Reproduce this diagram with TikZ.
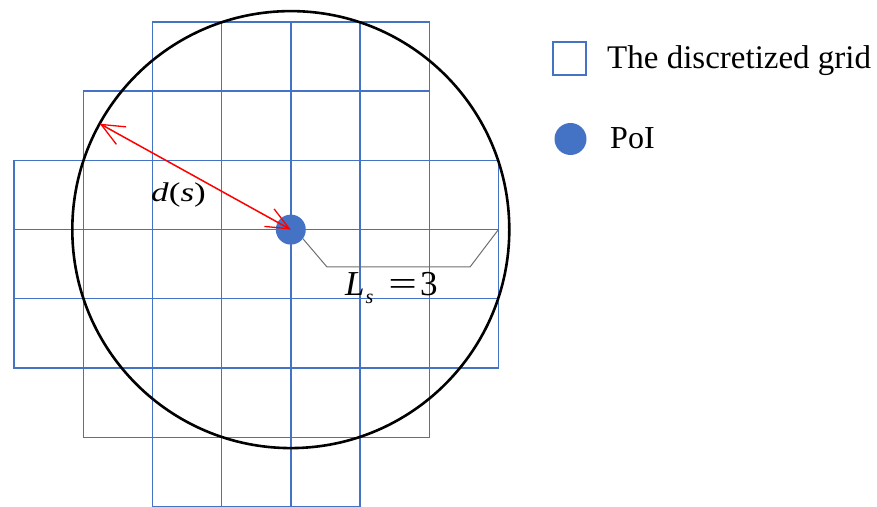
\documentclass[tikz,border=0pt]{standalone}
\usepackage{fontspec}
\usepackage{graphicx}
\setmainfont{Liberation Serif}
\usetikzlibrary{arrows.meta,calc}
\definecolor{gridblue}{RGB}{68,114,196}
\definecolor{brackgray}{RGB}{110,110,110}
\begin{document}
\begin{tikzpicture}[x=1pt,y=1pt,
  gridline/.style={draw=gridblue,line width=1.4pt,line cap=rect},
  rimline/.style={draw=black,line width=2.6pt},
  distarrow/.style={draw=red,line width=1.5pt,{Straight Barb[length=23pt,width=20pt,line width=1.3pt]}-{Straight Barb[length=23pt,width=20pt,line width=1.3pt]}},
  bracket/.style={draw=brackgray,line width=1pt},
  lbl/.style={inner sep=0pt,anchor=base west}]
\useasboundingbox (0,0) rectangle (877,506);
% grid: horizontal lines (row index / first col / last col)
\foreach \r/\a/\b in {0/2/6,1/1/6,2/0/7,3/0/7,4/0/7,5/0/7,6/1/6,7/2/5}{
  \draw[gridline] ({14+69.2*\a},{484-69.2*\r}) -- ({14+69.2*\b},{484-69.2*\r});
}
% grid: vertical lines (col index / first row / last row)
\foreach \c/\a/\b in {0/2/5,1/1/6,2/0/7,3/0/7,4/0/7,5/0/7,6/0/6,7/2/5}{
  \draw[gridline] ({14+69.2*\c},{484-69.2*\a}) -- ({14+69.2*\c},{484-69.2*\b});
}
\coordinate (ctr) at (290.8,276.4);
\coordinate (gridend) at (498.4,276.4);
% circle
\draw[rimline] (ctr) circle (218.5);
\coordinate (rim) at ($(ctr)+(151:218.5)$);
% PoI dot
\node[circle,fill=gridblue,minimum size=30pt,inner sep=0pt] (poi) at (ctr) {};
% distance arrow
\draw[distarrow] (rim) -- (ctr);
% bracket
\coordinate (b1) at (327,239);
\coordinate (b2) at (470,239);
\draw[bracket] (poi.-37) -- (b1) -- (b2) -- (gridend);
% labels
\node[lbl] (ds) at (151,304.3) {\scalebox{1.3}[1]{\fontsize{27}{27}\selectfont\textit{d}(\textit{s})}};
\node[lbl] (ls) at (345,210) {\fontsize{35}{35}\selectfont\textit{L}\kern1pt\raisebox{-8pt}{\fontsize{20}{20}\selectfont\textit{s}}\hspace{15pt}\scalebox{1.45}[1]{=}\hspace{3pt}3};
% legend
\node[draw=gridblue,line width=1.3pt,minimum size=33pt,inner sep=0pt] (legsq) at (569.5,447.5) {};
\node[lbl] (legsqtxt) at (607,437.7) {\fontsize{33}{33}\selectfont The discretized grid};
\node[circle,fill=gridblue,minimum size=32pt,inner sep=0pt] (legdot) at (570.5,367) {};
\node[lbl] (legdottxt) at (610,357.3) {\fontsize{32}{32}\selectfont PoI};
\end{tikzpicture}
\end{document}
